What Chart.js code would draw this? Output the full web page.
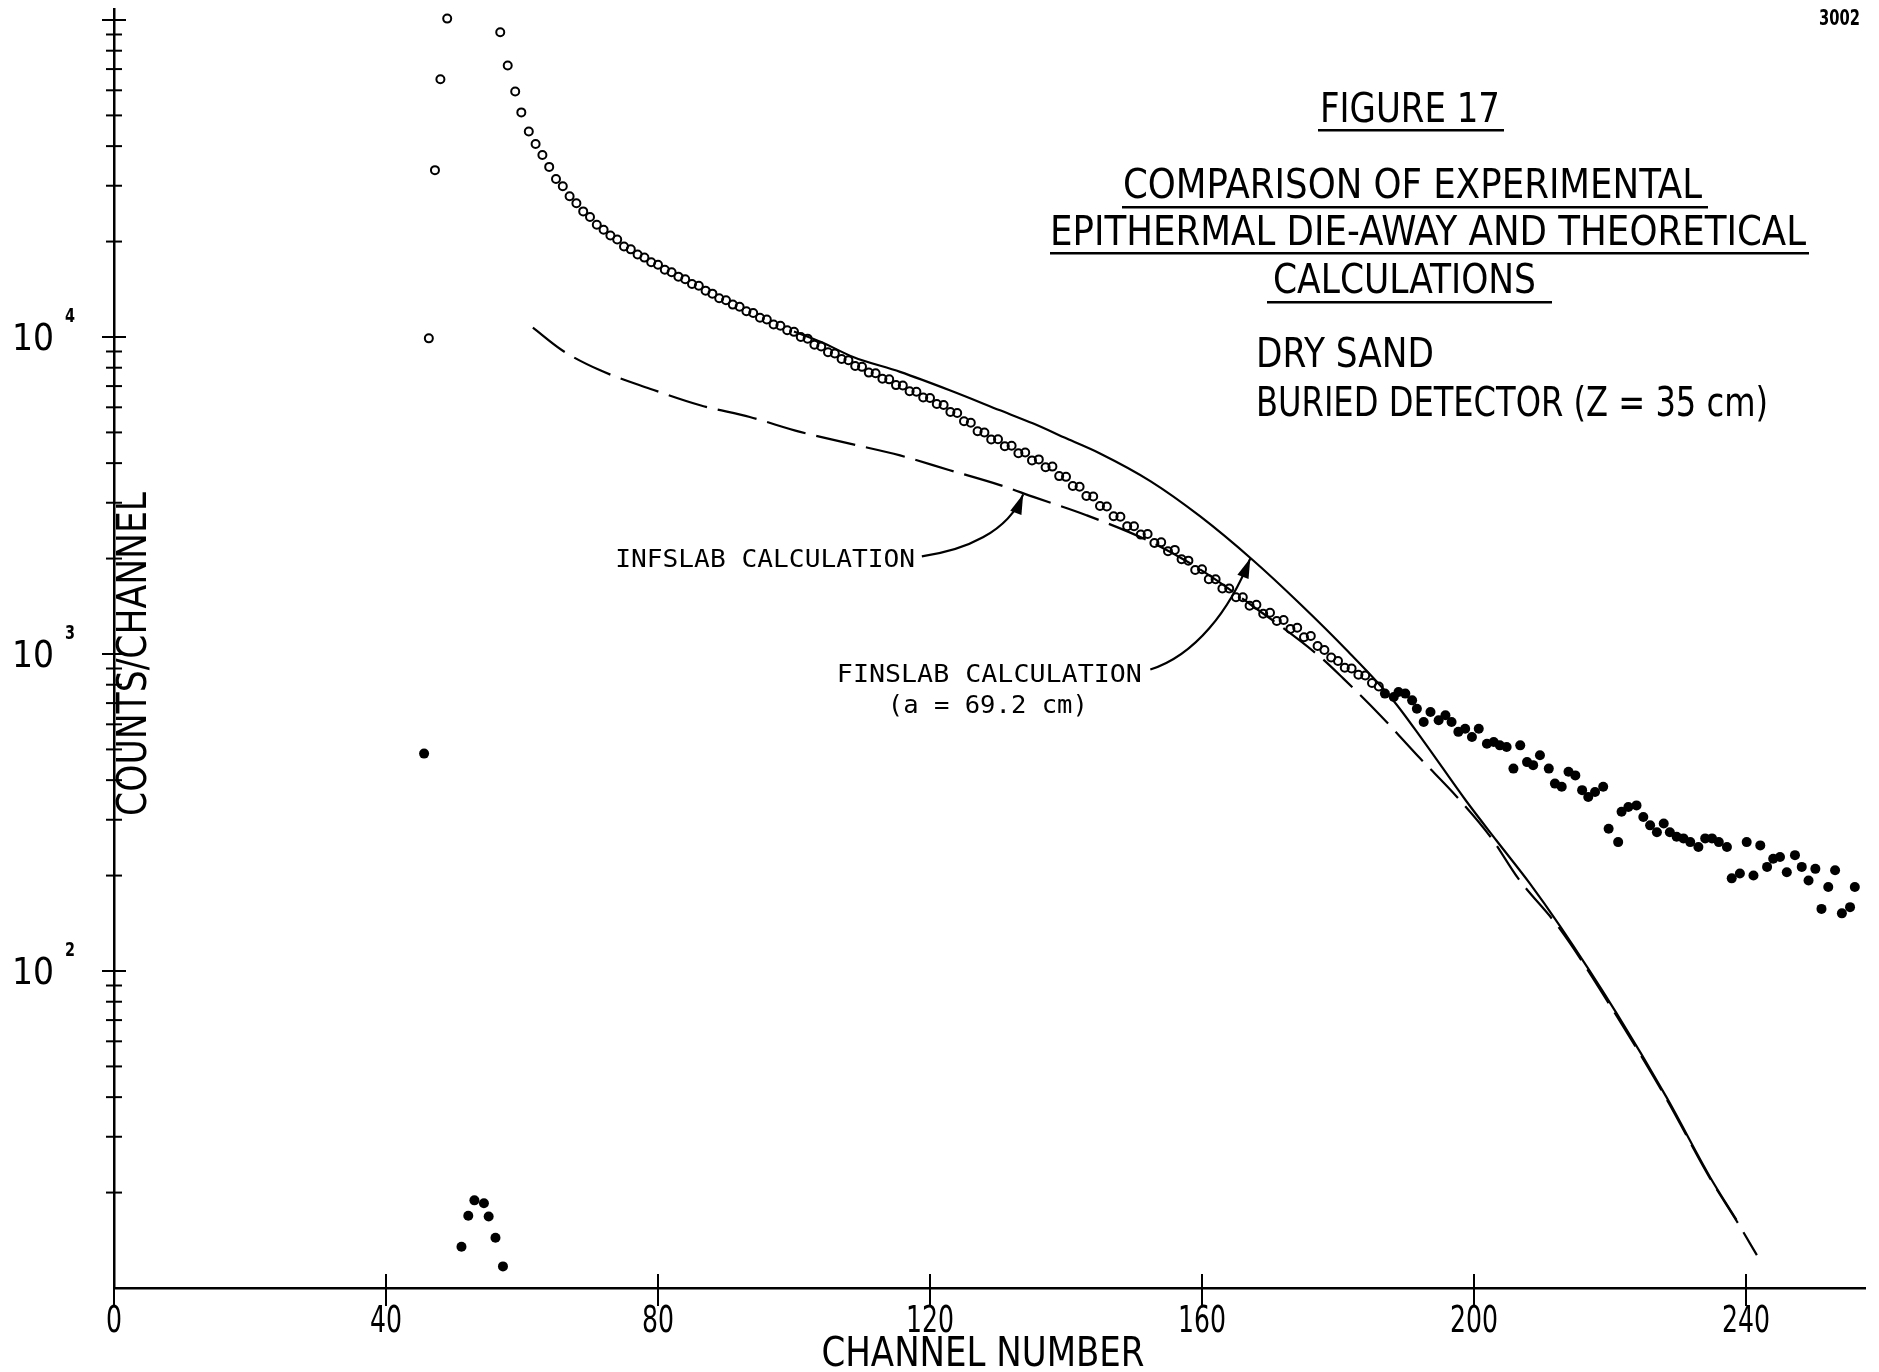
<!DOCTYPE html>
<html>
<head>
<meta charset="utf-8">
<title>Figure 17</title>
<script src="https://cdn.jsdelivr.net/npm/chart.js@4.4.1/dist/chart.umd.min.js"></script>
<style>
  html, body { margin: 0; padding: 0; background: #fff; }
  #grafico { display: block; }
</style>
</head>
<body>
<canvas id="grafico" width="1879" height="1372"></canvas>
<script>
// Experimental die-away, open circles (channel / counts per channel)
const openChannels = [46.3, 47.2, 48, 49, 56.8, 57.9, 59, 59.9, 61,
  62, 63, 64, 65, 66, 67, 68, 69, 70, 71, 72, 73, 74, 75, 76, 77, 78, 79, 80, 81,
  82, 83, 84, 85, 86, 87, 88, 89, 90, 91, 92, 93, 94, 95, 96, 97, 98, 99, 100, 101,
  102, 103, 104, 105, 106, 107, 108, 109, 110, 111, 112, 113, 114, 115, 116, 117, 118, 119, 120, 121,
  122, 123, 124, 125, 126, 127, 128, 129, 130, 131, 132, 133, 134, 135, 136, 137, 138, 139, 140, 141,
  142, 143, 144, 145, 146, 147, 148, 149, 150, 151, 152, 153, 154, 155, 156, 157, 158, 159, 160, 161,
  162, 163, 164, 165, 166, 167, 168, 169, 170, 171, 172, 173, 174, 175, 176, 177, 178, 179, 180, 181,
  182, 183, 184, 185, 186];
const openCounts = [9900, 33600, 65000, 101000, 91500, 71800, 59500, 51100, 44500,
  40600, 37500, 34400, 31500, 29900, 27800, 26400, 24900, 23900, 22600, 21800, 20900, 20300, 19300, 18900, 18200, 17800, 17200, 16900, 16300,
  16000, 15500, 15200, 14700, 14500, 14000, 13700, 13250, 13050, 12650, 12450, 12050, 11900, 11500, 11350, 10950, 10850, 10500, 10380, 10000,
  9880, 9450, 9330, 8950, 8870, 8520, 8440, 8100, 8050, 7720, 7680, 7380, 7350, 7050, 7030, 6740, 6720, 6440, 6420, 6150,
  6100, 5800, 5760, 5420, 5360, 5040, 5000, 4750, 4760, 4520, 4540, 4300, 4320, 4080, 4110, 3880, 3900, 3640, 3620, 3390,
  3370, 3150, 3140, 2930, 2920, 2720, 2710, 2530, 2530, 2380, 2390, 2240, 2250, 2110, 2130, 1990, 1970, 1840, 1850, 1720,
  1720, 1610, 1610, 1510, 1510, 1420, 1430, 1340, 1350, 1270, 1280, 1200, 1210, 1130, 1140, 1060, 1030, 975, 950, 905,
  900, 860, 855, 810, 790];

// Experimental points drawn as filled dots (low channels and the tail)
const filledChannels = [45.6, 51.1, 52.1, 53.0, 54.4, 55.1, 56.1, 57.2,
  186.9, 188.2, 188.9, 189.9, 190.9, 191.6, 192.6, 193.6, 194.8, 195.8,
  196.7, 197.7, 198.7, 199.7, 200.7, 201.9, 202.9, 203.8, 204.8, 205.8,
  206.8, 207.8, 208.7, 209.7, 211.0, 211.9, 212.9, 213.9, 214.9, 215.9,
  216.8, 217.8, 219.0, 219.8, 221.2, 221.7, 222.7, 223.9, 224.9, 225.9,
  226.9, 227.9, 228.8, 229.8, 230.8, 231.8, 233.0, 234.0, 235.0, 236.0,
  237.2, 237.9, 239.1, 240.1, 241.1, 242.1, 243.1, 244.0, 245.0, 246.0,
  247.2, 248.2, 249.2, 250.2, 251.1, 252.1, 253.1, 254.1, 255.3, 256.0];
const filledCounts = [485, 13.5, 16.9, 18.9, 18.5, 16.8, 14.4, 11.7,
  750, 732, 759, 750, 714, 672, 610, 656, 618, 641,
  610, 568, 581, 547, 581, 521, 528, 515, 509, 435,
  515, 456, 446, 479, 435, 390, 381, 425, 414, 372,
  354, 367, 381, 281, 255, 318, 329, 333, 306, 288,
  274, 292, 274, 265, 262, 255, 246, 262, 262, 255,
  246, 196, 203, 255, 200, 249, 213, 226, 229, 205,
  232, 213, 193, 210, 157, 184, 208, 152, 159, 184];

// FINSLAB calculation (solid line)
const finslabChannels = [100, 104, 108.7, 115.6, 122.9, 130.3, 135.2, 140.1, 145, 152.4, 159.7, 167.5,
  174.4, 181.3, 188.1, 192.5, 198.8, 203.3, 208.2, 212.6, 221, 228.3, 234.7, 238.6];
const finslabCounts = [10400, 9640, 8650, 7760, 6790, 5870, 5330, 4780, 4290, 3510, 2720, 1975,
  1440, 1027, 715, 534, 345, 258, 189, 139, 73.4, 40, 22.4, 16.4];

// INFSLAB calculation (dashed line)
const infslabChannels = [61.6, 66, 71.5, 78.8, 86.2, 93.5, 100.9, 108.2, 115.6, 122.9, 130.3, 135.2, 143,
  152.4, 159.7, 167.1, 177.4, 180.8, 186.2, 192.1, 197.5, 202.6, 206.5, 212.6, 221, 228.3, 234.7, 238.6, 241.6];
const infslabCounts = [10700, 9050, 7850, 6870, 6090, 5590, 5020, 4610, 4230, 3800, 3410, 3130, 2740,
  2260, 1850, 1435, 978, 836, 641, 468, 354, 262, 196, 136, 72, 39.5, 22.2, 16.3, 12.7];

// Axis ticks
const xTickValues = [0, 40, 80, 120, 160, 200, 240];
const xTickLabels = ['0', '40', '80', '120', '160', '200', '240'];
const yDecades = [10, 100, 1000, 10000];
const yLabelValues = [100, 1000, 10000];
const yLabelExponents = ['2', '3', '4'];

// Arrow paths (start, control, control, tip) in channel / counts
const infslabArrow = [[118.8, 2033], [125.1, 2124], [131.5, 2421], [133.7, 3190]];
const finslabArrow = [[152.4, 893], [159.0, 991], [164.1, 1374], [167.1, 2004]];

const narrowFont = "'Liberation Sans Narrow', 'DejaVu Sans Condensed', 'DejaVu Sans', sans-serif";
const monoFont = "'DejaVu Sans Mono', 'Liberation Mono', monospace";

function toPoints(xs, ys) {
  return xs.map((x, i) => ({ x: x, y: ys[i] }));
}

// draws text stretched or squeezed to a given width
function fitText(ctx, text, x, y, width, align) {
  const w = ctx.measureText(text).width;
  ctx.save();
  ctx.translate(x, y);
  ctx.scale(width / w, 1);
  ctx.textAlign = align || 'left';
  ctx.fillText(text, 0, 0);
  ctx.restore();
}

function drawArrow(ctx, p) {
  ctx.beginPath();
  ctx.moveTo(p[0][0], p[0][1]);
  ctx.bezierCurveTo(p[1][0], p[1][1], p[2][0], p[2][1], p[3][0], p[3][1]);
  ctx.stroke();
  const ang = Math.atan2(p[3][1] - p[2][1], p[3][0] - p[2][0]);
  const len = 20, half = 6;
  const bx = p[3][0] - len * Math.cos(ang), by = p[3][1] - len * Math.sin(ang);
  ctx.beginPath();
  ctx.moveTo(p[3][0], p[3][1]);
  ctx.lineTo(bx + half * Math.sin(ang), by - half * Math.cos(ang));
  ctx.lineTo(bx - half * Math.sin(ang), by + half * Math.cos(ang));
  ctx.closePath();
  ctx.fill();
}

const figurePlugin = {
  id: 'figure17',
  beforeDraw(chart) {
    const ctx = chart.ctx;
    ctx.save();
    ctx.fillStyle = '#fff';
    ctx.fillRect(0, 0, chart.width, chart.height);
    ctx.restore();
  },
  afterDraw(chart) {
    const ctx = chart.ctx;
    const xs = chart.scales.x;
    const ys = chart.scales.y;
    const area = chart.chartArea;
    ctx.save();
    ctx.strokeStyle = '#000';
    ctx.fillStyle = '#000';
    ctx.lineWidth = 2;
    ctx.textBaseline = 'alphabetic';

    // y ticks crossing the axis, decades longer
    yDecades.forEach(d => {
      for (let k = 1; k <= 10; k++) {
        if (d === 10 && k === 1) continue;
        const py = ys.getPixelForValue(d * k);
        const len = (k === 1 || k === 10) ? 12 : 8;
        ctx.beginPath();
        ctx.moveTo(area.left - len, py);
        ctx.lineTo(area.left + len, py);
        ctx.stroke();
      }
    });

    // y labels: 10 with exponent
    yLabelValues.forEach((v, i) => {
      const py = ys.getPixelForValue(v);
      ctx.font = '37px ' + narrowFont;
      fitText(ctx, '10', 12, py + 13, 42, 'left');
      ctx.font = 'bold 20px ' + narrowFont;
      fitText(ctx, yLabelExponents[i], 65, py - 15, 10, 'left');
    });

    // x ticks and labels
    ctx.font = '38px ' + narrowFont;
    const digitScale = 32 / ctx.measureText('80').width;
    xTickValues.forEach((v, i) => {
      const px = xs.getPixelForValue(v);
      ctx.beginPath();
      ctx.moveTo(px, area.bottom - 14);
      ctx.lineTo(px, area.bottom + 18);
      ctx.stroke();
      const t = xTickLabels[i];
      fitText(ctx, t, px, area.bottom + 44, ctx.measureText(t).width * digitScale, 'center');
    });

    // axis titles
    ctx.font = '41px ' + narrowFont;
    fitText(ctx, 'CHANNEL NUMBER', 983, 1366, 323, 'center');
    ctx.save();
    ctx.translate(146, ys.getPixelForValue(1000));
    ctx.rotate(-Math.PI / 2);
    fitText(ctx, 'COUNTS/CHANNEL', 0, 0, 324, 'center');
    ctx.restore();

    // figure titles
    ctx.font = '41px ' + narrowFont;
    fitText(ctx, 'FIGURE 17', 1410, 122, 180, 'center');
    fitText(ctx, 'COMPARISON OF EXPERIMENTAL', 1123, 198, 579, 'left');
    fitText(ctx, 'EPITHERMAL DIE-AWAY AND THEORETICAL', 1050, 245, 756, 'left');
    fitText(ctx, 'CALCULATIONS', 1273, 293, 263, 'left');
    fitText(ctx, 'DRY SAND', 1256, 367, 178, 'left');
    fitText(ctx, 'BURIED DETECTOR (Z = 35 cm)', 1256, 416, 512, 'left');
    ctx.fillRect(1318, 129, 186, 2.5);
    ctx.fillRect(1122, 206, 586, 2.5);
    ctx.fillRect(1050, 252, 759, 2.5);
    ctx.fillRect(1267, 301, 285, 2.5);

    ctx.font = 'bold 21px ' + narrowFont;
    fitText(ctx, '3002', 1819, 25, 41, 'left');

    // annotations
    ctx.font = '25px ' + monoFont;
    fitText(ctx, 'INFSLAB CALCULATION', xs.getPixelForValue(73.7), ys.getPixelForValue(1881), 300, 'left');
    fitText(ctx, 'FINSLAB CALCULATION', xs.getPixelForValue(106.3), ys.getPixelForValue(816), 305, 'left');
    fitText(ctx, '(a = 69.2 cm)', xs.getPixelForValue(128.5), ys.getPixelForValue(651.5), 200, 'center');

    ctx.lineWidth = 2.2;
    [infslabArrow, finslabArrow].forEach(a => {
      drawArrow(ctx, a.map(p => [xs.getPixelForValue(p[0]), ys.getPixelForValue(p[1])]));
    });
    ctx.restore();
  }
};

new Chart(document.getElementById('grafico'), {
  type: 'scatter',
  data: {
    datasets: [
      {
        label: 'Experimental',
        data: toPoints(openChannels, openCounts),
        pointStyle: 'circle',
        pointRadius: 4,
        pointBorderWidth: 2,
        pointBorderColor: '#000',
        pointBackgroundColor: 'rgba(0,0,0,0)',
        showLine: false
      },
      {
        label: 'Experimental (tail)',
        data: toPoints(filledChannels, filledCounts),
        pointStyle: 'circle',
        pointRadius: 5,
        pointBorderWidth: 0,
        pointBackgroundColor: '#000',
        showLine: false
      },
      {
        label: 'FINSLAB',
        data: toPoints(finslabChannels, finslabCounts),
        showLine: true,
        borderColor: '#000',
        borderWidth: 2.2,
        pointRadius: 0,
        cubicInterpolationMode: 'monotone'
      },
      {
        label: 'INFSLAB',
        data: toPoints(infslabChannels, infslabCounts),
        showLine: true,
        borderColor: '#000',
        borderWidth: 2.2,
        borderDash: [40, 11],
        pointRadius: 0,
        cubicInterpolationMode: 'monotone'
      }
    ]
  },
  options: {
    responsive: false,
    animation: false,
    events: [],
    layout: { padding: { top: 9, right: 14, left: 0, bottom: 0 } },
    plugins: {
      legend: { display: false },
      tooltip: { enabled: false }
    },
    scales: {
      x: {
        type: 'linear',
        min: 0,
        max: 257.5,
        grid: { display: false, drawTicks: false },
        border: { display: true, color: '#000', width: 2.5 },
        ticks: { display: false },
        afterFit(scale) { scale.height = 84; }
      },
      y: {
        type: 'logarithmic',
        min: 10,
        max: 108300,
        grid: { display: false, drawTicks: false },
        border: { display: true, color: '#000', width: 2.5 },
        ticks: { display: false },
        afterFit(scale) { scale.width = 114; }
      }
    }
  },
  plugins: [figurePlugin]
});
</script>
</body>
</html>
